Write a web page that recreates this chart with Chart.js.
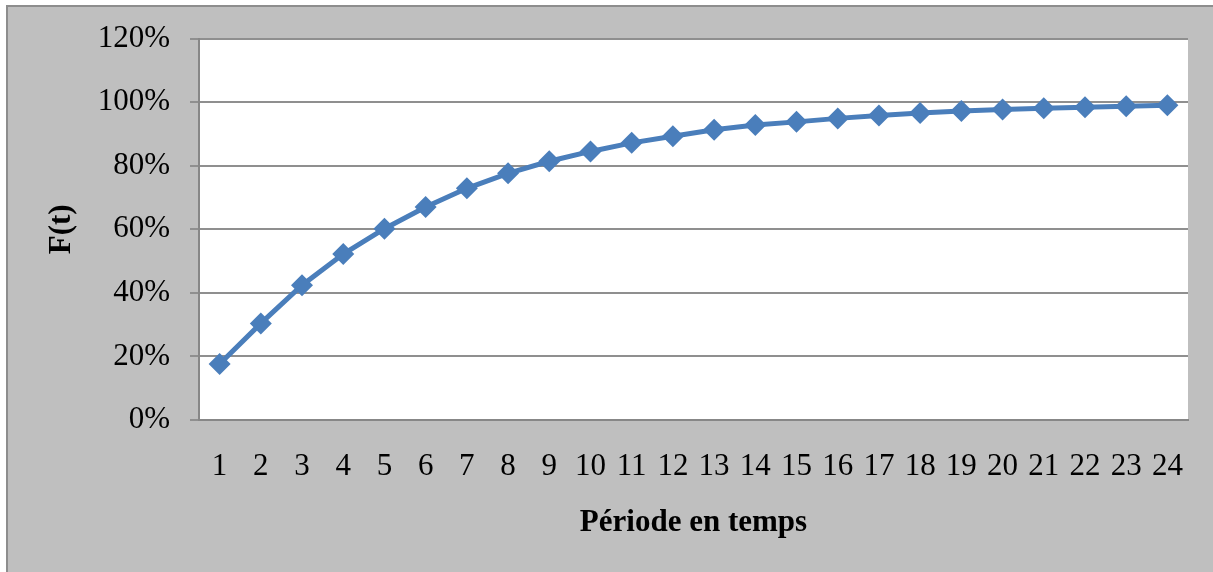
<!DOCTYPE html>
<html>
<head>
<meta charset="utf-8">
<script src="https://cdn.jsdelivr.net/npm/chart.js@4.4.1/dist/chart.umd.min.js"></script>
<style>
  html, body { margin: 0; padding: 0; background: #fff; overflow: hidden; }
  #frame {
    position: absolute; left: 6px; top: 5px; width: 1400px; height: 800px;
    background: #bfbfbf; border-left: 2px solid #8d8d8d; border-top: 2px solid #8d8d8d;
  }
  #wrap { position: absolute; left: 0; top: 0; width: 1213px; height: 572px; }
</style>
</head>
<body>
<div id="frame"></div>
<div id="wrap"><canvas id="cdf"></canvas></div>
<script>
const periods = ['1','2','3','4','5','6','7','8','9','10','11','12','13','14','15','16','17','18','19','20','21','22','23','24'];
const cumul = [17.6, 30.4, 42.4, 52.2, 60.2, 67.0, 72.9, 77.6, 81.4, 84.5, 87.2, 89.3,
               91.3, 92.8, 93.8, 94.9, 95.8, 96.6, 97.2, 97.7, 98.1, 98.4, 98.7, 99.0];
const yTicks = [0, 20, 40, 60, 80, 100, 120];

const serif = '"Liberation Serif", "Times New Roman", serif';

// white plot area on the grey frame
const plotBg = {
    id: 'plotBg',
    beforeDraw(chart) {
        const {ctx, chartArea: a} = chart;
        ctx.save();
        ctx.fillStyle = '#ffffff';
        ctx.fillRect(a.left, a.top, a.right - a.left, a.bottom - a.top);
        ctx.restore();
    }
};

const ctx = document.getElementById('cdf').getContext('2d');
new Chart(ctx, {
    type: 'line',
    data: {
        labels: periods,
        datasets: [{
            label: 'F(t)',
            data: cumul,
            borderColor: '#4a7ebb',
            backgroundColor: '#4a7ebb',
            borderWidth: 5,
            pointStyle: 'rectRot',
            pointRadius: 11,
            pointHoverRadius: 11,
            pointBorderWidth: 0,
            tension: 0,
            fill: false
        }]
    },
    options: {
        responsive: true,
        maintainAspectRatio: false,
        animation: false,
        layout: { padding: { top: 38, right: 25, left: 0, bottom: 0 } },
        plugins: {
            legend: { display: false },
            tooltip: { enabled: false }
        },
        scales: {
            x: {
                offset: true,
                grid: { display: false, drawTicks: false },
                border: { display: true, color: '#878787', width: 2 },
                ticks: {
                    color: '#000',
                    padding: 28,
                    maxRotation: 0,
                    autoSkip: false,
                    font: { family: serif, size: 31 }
                },
                title: {
                    display: true,
                    text: 'Période en temps',
                    color: '#000',
                    padding: { top: 0, bottom: 30 },
                    font: { family: serif, size: 31, weight: 'bold' }
                },
                afterFit(scale) { scale.height = 152; }
            },
            y: {
                min: 0,
                max: 120,
                afterBuildTicks(scale) { scale.ticks = yTicks.map(v => ({ value: v })); },
                grid: { color: '#8f8f8f', lineWidth: 2, tickLength: 9 },
                border: { display: true, color: '#878787', width: 2 },
                ticks: {
                    color: '#000',
                    padding: 20,
                    font: { family: serif, size: 31 },
                    callback: v => v + '%'
                },
                title: {
                    display: true,
                    text: 'F(t)',
                    color: '#000',
                    padding: { top: 43, bottom: 0 },
                    font: { family: serif, size: 31, weight: 'bold' }
                },
                afterFit(scale) { scale.width = 199; }
            }
        }
    },
    plugins: [plotBg]
});
</script>
</body>
</html>
